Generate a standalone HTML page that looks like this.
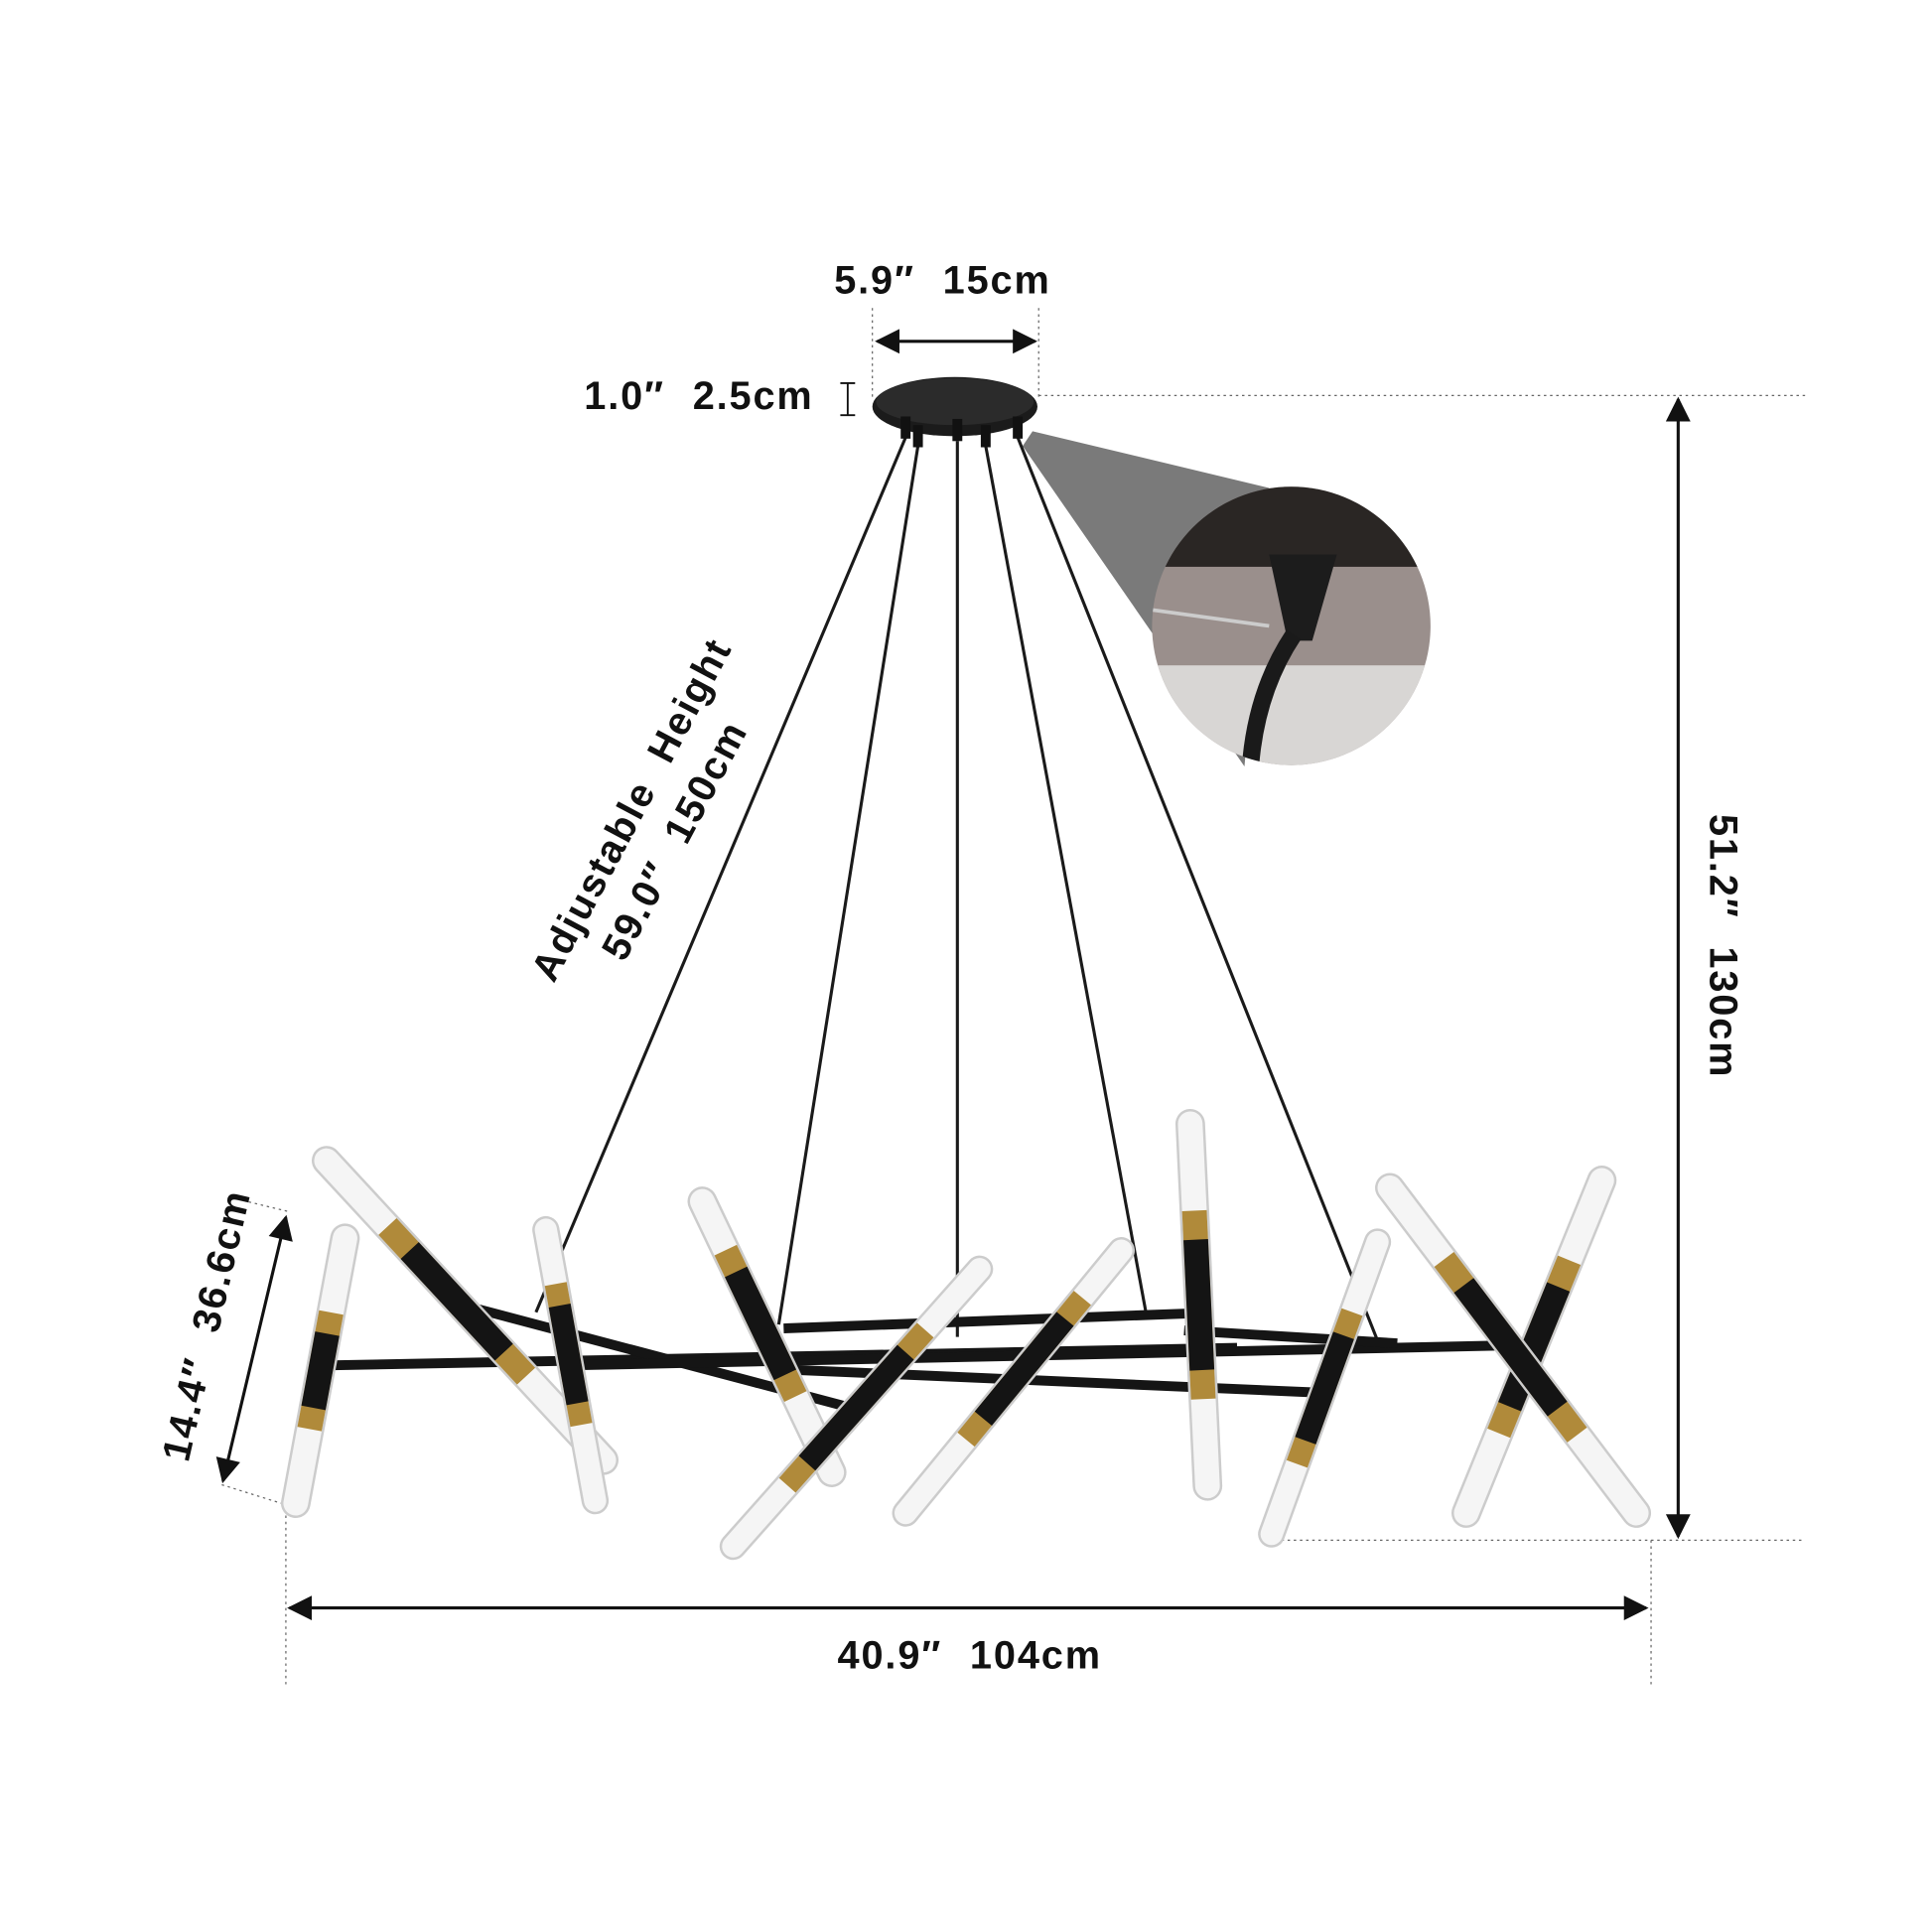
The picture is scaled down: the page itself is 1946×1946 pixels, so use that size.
<!DOCTYPE html>
<html><head><meta charset="utf-8"><style>
html,body{margin:0;padding:0;background:#fff;}
svg{display:block;}
text{font-family:"Liberation Sans",sans-serif;font-weight:bold;fill:#111;letter-spacing:1.5px;word-spacing:12px;}
</style></head><body>
<svg width="1946" height="1946" viewBox="0 0 1568 1568" xmlns="http://www.w3.org/2000/svg">
<defs>
<marker id="ah" viewBox="0 0 10 10" refX="9" refY="5" markerWidth="11" markerHeight="8" orient="auto-start-reverse"><path d="M0,0 L10,5 L0,10 z" fill="#111"/></marker>
<clipPath id="cc"><circle cx="1048" cy="508" r="113"/></clipPath>
</defs>
<g stroke="#666" stroke-width="1" stroke-dasharray="2,3" fill="none">
<line x1="708" y1="250" x2="708" y2="322"/><line x1="843" y1="250" x2="843" y2="322"/>
<line x1="843" y1="321" x2="1465" y2="321"/>
<line x1="1040" y1="1250" x2="1465" y2="1250"/>
<line x1="232" y1="1225" x2="232" y2="1370"/><line x1="1340" y1="1250" x2="1340" y2="1370"/>
<line x1="233" y1="983" x2="200" y2="975"/><line x1="180" y1="1205" x2="228" y2="1220"/>
</g>
<g stroke="#111" stroke-width="2.5" fill="none">
<line x1="712" y1="277" x2="840" y2="277" marker-start="url(#ah)" marker-end="url(#ah)"/>
<line x1="1362" y1="324" x2="1362" y2="1247" marker-start="url(#ah)" marker-end="url(#ah)"/>
<line x1="235" y1="1305" x2="1336" y2="1305" marker-start="url(#ah)" marker-end="url(#ah)"/>
<line x1="232" y1="988" x2="181" y2="1202" marker-start="url(#ah)" marker-end="url(#ah)"/>
<path d="M682,311 h12 M688,311 v26 M682,337 h12" stroke-width="1.5"/>
</g>
<text x="765" y="238" font-size="32" text-anchor="middle">5.9″ 15cm</text>
<text x="474" y="332" font-size="32">1.0″ 2.5cm</text>
<text x="787" y="1354" font-size="32" text-anchor="middle">40.9″ 104cm</text>
<text transform="translate(1388,768) rotate(90)" font-size="32" text-anchor="middle">51.2″ 130cm</text>
<text transform="translate(178,1078) rotate(-77)" font-size="32" text-anchor="middle">14.4″ 36.6cm</text>
<text transform="translate(522,662) rotate(-62)" font-size="32" text-anchor="middle">Adjustable Height</text>
<text transform="translate(557,687) rotate(-62)" font-size="32" text-anchor="middle">59.0″ 150cm</text>
<polygon points="830,362 838,350 1030,396 1010,622" fill="#7a7a7a"/>
<circle cx="1048" cy="508" r="113" fill="#9a8f8c"/>
<g clip-path="url(#cc)">
<rect x="930" y="390" width="240" height="70" fill="#2a2624"/>
<rect x="930" y="540" width="240" height="90" fill="#d8d6d4"/>
<path d="M1030,450 L1085,450 L1065,520 L1045,520 z" fill="#1c1c1c"/>
<path d="M1050,515 Q1020,560 1015,620" stroke="#1a1a1a" stroke-width="14" fill="none"/>
<line x1="935" y1="495" x2="1030" y2="508" stroke="#ccc" stroke-width="3"/>
</g>
<g stroke="#1a1a1a" stroke-width="2.5">
<line x1="735" y1="355" x2="435" y2="1065"/>
<line x1="745" y1="362" x2="632" y2="1075"/>
<line x1="777" y1="358" x2="777" y2="1085"/>
<line x1="800" y1="362" x2="930" y2="1065"/>
<line x1="826" y1="355" x2="1118" y2="1088"/>
</g>
<ellipse cx="775" cy="330" rx="67" ry="24" fill="#1b1b1b"/>
<ellipse cx="775" cy="326" rx="64" ry="19" fill="#2b2b2b"/>
<g fill="#111"><rect x="731" y="338" width="8" height="18"/><rect x="741" y="345" width="8" height="18"/><rect x="773" y="340" width="8" height="18"/><rect x="796" y="345" width="8" height="18"/><rect x="822" y="338" width="8" height="18"/></g>
<g stroke="#151515" stroke-width="8" stroke-linecap="square">
<line x1="275" y1="1108" x2="1000" y2="1094"/>
<line x1="390" y1="1063" x2="700" y2="1145"/>
<line x1="640" y1="1078" x2="965" y2="1066"/>
<line x1="470" y1="1108" x2="1220" y2="1092"/>
<line x1="650" y1="1112" x2="1065" y2="1130"/>
<line x1="965" y1="1080" x2="1130" y2="1090"/>
</g>
<g fill="none" stroke-linecap="butt">
<g>
<line x1="280" y1="1005" x2="240" y2="1220" stroke="#ccc" stroke-width="24" stroke-linecap="round"/>
<line x1="280" y1="1005" x2="240" y2="1220" stroke="#f5f5f5" stroke-width="20" stroke-linecap="round"/>
<line x1="280" y1="1005" x2="240" y2="1220" pathLength="100" stroke-dasharray="0 28 44 28" stroke="#b08a3a" stroke-width="20"/>
<line x1="280" y1="1005" x2="240" y2="1220" pathLength="100" stroke-dasharray="0 36 28 36" stroke="#141414" stroke-width="20"/>
</g>
<g>
<line x1="265" y1="942" x2="490" y2="1185" stroke="#ccc" stroke-width="24" stroke-linecap="round"/>
<line x1="265" y1="942" x2="490" y2="1185" stroke="#f5f5f5" stroke-width="20" stroke-linecap="round"/>
<line x1="265" y1="942" x2="490" y2="1185" pathLength="100" stroke-dasharray="0 22 50 28" stroke="#b08a3a" stroke-width="20"/>
<line x1="265" y1="942" x2="490" y2="1185" pathLength="100" stroke-dasharray="0 30 34 36" stroke="#141414" stroke-width="20"/>
</g>
<g>
<line x1="443" y1="998" x2="483" y2="1218" stroke="#ccc" stroke-width="22" stroke-linecap="round"/>
<line x1="443" y1="998" x2="483" y2="1218" stroke="#f5f5f5" stroke-width="18" stroke-linecap="round"/>
<line x1="443" y1="998" x2="483" y2="1218" pathLength="100" stroke-dasharray="0 20 52 28" stroke="#b08a3a" stroke-width="18"/>
<line x1="443" y1="998" x2="483" y2="1218" pathLength="100" stroke-dasharray="0 28 36 36" stroke="#141414" stroke-width="18"/>
</g>
<g>
<line x1="570" y1="975" x2="675" y2="1195" stroke="#ccc" stroke-width="24" stroke-linecap="round"/>
<line x1="570" y1="975" x2="675" y2="1195" stroke="#f5f5f5" stroke-width="20" stroke-linecap="round"/>
<line x1="570" y1="975" x2="675" y2="1195" pathLength="100" stroke-dasharray="0 18 54 28" stroke="#b08a3a" stroke-width="20"/>
<line x1="570" y1="975" x2="675" y2="1195" pathLength="100" stroke-dasharray="0 26 38 36" stroke="#141414" stroke-width="20"/>
</g>
<g>
<line x1="795" y1="1030" x2="595" y2="1255" stroke="#ccc" stroke-width="22" stroke-linecap="round"/>
<line x1="795" y1="1030" x2="595" y2="1255" stroke="#f5f5f5" stroke-width="18" stroke-linecap="round"/>
<line x1="795" y1="1030" x2="595" y2="1255" pathLength="100" stroke-dasharray="0 22 56 22" stroke="#b08a3a" stroke-width="18"/>
<line x1="795" y1="1030" x2="595" y2="1255" pathLength="100" stroke-dasharray="0 30 40 30" stroke="#141414" stroke-width="18"/>
</g>
<g>
<line x1="910" y1="1015" x2="735" y2="1228" stroke="#ccc" stroke-width="22" stroke-linecap="round"/>
<line x1="910" y1="1015" x2="735" y2="1228" stroke="#f5f5f5" stroke-width="18" stroke-linecap="round"/>
<line x1="910" y1="1015" x2="735" y2="1228" pathLength="100" stroke-dasharray="0 18 54 28" stroke="#b08a3a" stroke-width="18"/>
<line x1="910" y1="1015" x2="735" y2="1228" pathLength="100" stroke-dasharray="0 26 38 36" stroke="#141414" stroke-width="18"/>
</g>
<g>
<line x1="966" y1="912" x2="980" y2="1206" stroke="#ccc" stroke-width="24" stroke-linecap="round"/>
<line x1="966" y1="912" x2="980" y2="1206" stroke="#f5f5f5" stroke-width="20" stroke-linecap="round"/>
<line x1="966" y1="912" x2="980" y2="1206" pathLength="100" stroke-dasharray="0 24 52 24" stroke="#b08a3a" stroke-width="20"/>
<line x1="966" y1="912" x2="980" y2="1206" pathLength="100" stroke-dasharray="0 32 36 32" stroke="#141414" stroke-width="20"/>
</g>
<g>
<line x1="1118" y1="1008" x2="1032" y2="1245" stroke="#ccc" stroke-width="22" stroke-linecap="round"/>
<line x1="1118" y1="1008" x2="1032" y2="1245" stroke="#f5f5f5" stroke-width="18" stroke-linecap="round"/>
<line x1="1118" y1="1008" x2="1032" y2="1245" pathLength="100" stroke-dasharray="0 24 52 24" stroke="#b08a3a" stroke-width="18"/>
<line x1="1118" y1="1008" x2="1032" y2="1245" pathLength="100" stroke-dasharray="0 32 36 32" stroke="#141414" stroke-width="18"/>
</g>
<g>
<line x1="1300" y1="958" x2="1190" y2="1228" stroke="#ccc" stroke-width="24" stroke-linecap="round"/>
<line x1="1300" y1="958" x2="1190" y2="1228" stroke="#f5f5f5" stroke-width="20" stroke-linecap="round"/>
<line x1="1300" y1="958" x2="1190" y2="1228" pathLength="100" stroke-dasharray="0 24 52 24" stroke="#b08a3a" stroke-width="20"/>
<line x1="1300" y1="958" x2="1190" y2="1228" pathLength="100" stroke-dasharray="0 32 36 32" stroke="#141414" stroke-width="20"/>
</g>
<g>
<line x1="1128" y1="964" x2="1328" y2="1228" stroke="#ccc" stroke-width="24" stroke-linecap="round"/>
<line x1="1128" y1="964" x2="1328" y2="1228" stroke="#f5f5f5" stroke-width="20" stroke-linecap="round"/>
<line x1="1128" y1="964" x2="1328" y2="1228" pathLength="100" stroke-dasharray="0 22 54 24" stroke="#b08a3a" stroke-width="20"/>
<line x1="1128" y1="964" x2="1328" y2="1228" pathLength="100" stroke-dasharray="0 30 38 32" stroke="#141414" stroke-width="20"/>
</g>
</g>
</svg>
</body></html>
